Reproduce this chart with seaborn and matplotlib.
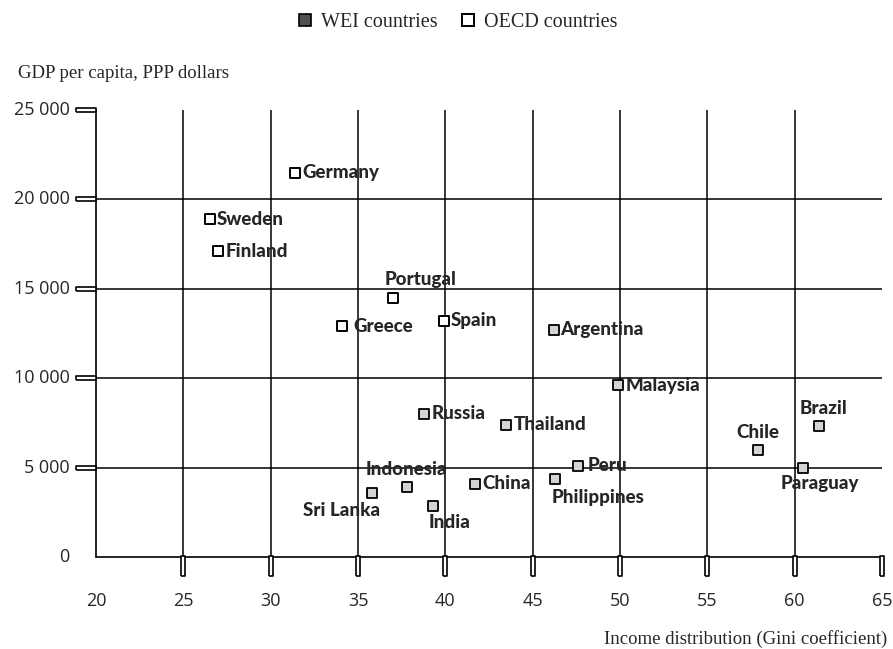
import matplotlib
matplotlib.use("Agg")
import matplotlib.pyplot as plt
from matplotlib.lines import Line2D
import numpy as np
import pandas as pd
import seaborn as sns

# Data
countries = ["Germany", "Sweden", "Finland", "Portugal", "Greece", "Spain",
             "Argentina", "Malaysia", "Russia", "Thailand", "Indonesia", "Sri Lanka",
             "India", "China", "Peru", "Philippines", "Chile", "Brazil", "Paraguay"]
gini = [31.4, 26.5, 27.0, 37.0, 34.1, 39.9,
        46.2, 49.9, 38.8, 43.5, 37.8, 35.8,
        39.3, 41.7, 47.6, 46.3, 57.9, 61.4, 60.5]
gdp = [21500, 18900, 17100, 14500, 12900, 13200,
       12700, 9600, 8000, 7400, 3900, 3600,
       2850, 4100, 5100, 4350, 6000, 7300, 5000]
group = ["OECD", "OECD", "OECD", "OECD", "OECD", "OECD",
         "WEI", "WEI", "WEI", "WEI", "WEI", "WEI",
         "WEI", "WEI", "WEI", "WEI", "WEI", "WEI", "WEI"]

x_ticks = [20, 25, 30, 35, 40, 45, 50, 55, 60, 65]
y_ticks = [0, 5000, 10000, 15000, 20000, 25000]
y_tick_labels = ["0", "5 000", "10 000", "15 000", "20 000", "25 000"]

df = pd.DataFrame({"country": countries, "gini": gini, "gdp": gdp, "group": group})

# label placement (offset in points, ha, va)
label_pos = {
    "Portugal": ((-6, 7), "left", "bottom"),
    "Indonesia": ((0, 7), "center", "bottom"),
    "Sri Lanka": ((6, -7), "right", "top"),
    "India": ((-3, -6), "left", "top"),
    "Philippines": ((-3, -7), "left", "top"),
    "Chile": ((0, 6), "center", "bottom"),
    "Brazil": ((3, 7), "center", "bottom"),
    "Paraguay": ((12, -5), "center", "top"),
    "Greece": ((8, 0), "left", "center"),
    "Peru": ((7, 0), "left", "center"),
}

sns.set_theme(style="white")
plt.rcParams["font.family"] = ["Liberation Serif", "DejaVu Serif"]
tick_font = ["Open Sans", "DejaVu Sans"]
label_font = ["Lato", "DejaVu Sans"]

fig = plt.figure(figsize=(8.93, 6.49), dpi=100)
ax = fig.add_axes([0.1075, 0.1418, 0.8802, 0.6887])
ax.set_xlim(20, 65)
ax.set_ylim(0, 25000)
for s in ax.spines.values():
    s.set_visible(False)
ax.set_xticks([])
ax.set_yticks([])

# grid lines drawn as in the original
for xv in x_ticks[1:-1]:
    ax.plot([xv, xv], [0, 25000], color="black", lw=1.1, zorder=1)
for yv in y_ticks[1:-1]:
    ax.plot([20, 65], [yv, yv], color="black", lw=1.1, zorder=1)
ax.plot([20, 20], [0, 25000], color="black", lw=1.2, clip_on=False, zorder=1)
ax.plot([20, 65], [0, 0], color="black", lw=1.2, clip_on=False, zorder=1)

# rectangular tick marks
tick_kw = dict(color="white", mec="black", mew=1.2, ls="none", clip_on=False, zorder=3)
ax.plot([19.45] * (len(y_ticks) - 1), y_ticks[1:],
        marker=[(-5, -1), (5, -1), (5, 1), (-5, 1), (-5, -1)], ms=15, **tick_kw)
ax.plot(x_ticks[1:], [-510] * (len(x_ticks) - 1),
        marker=[(-1, -5), (1, -5), (1, 5), (-1, 5), (-1, -5)], ms=15, **tick_kw)

for yv, lab in zip(y_ticks, y_tick_labels):
    ax.annotate(lab, (20, yv), xytext=(-19, 0), textcoords="offset points",
                ha="right", va="center", fontsize=13, family=tick_font,
                annotation_clip=False)
for xv in x_ticks:
    ax.annotate(str(xv), (xv, 0), xytext=(0, -32), textcoords="offset points",
                ha="center", va="center", fontsize=13, family=tick_font,
                annotation_clip=False)

# points
sns.scatterplot(data=df[df.group == "WEI"], x="gini", y="gdp", marker="s", s=50,
                color="#d4d4d4", edgecolor="black", linewidth=1.3, ax=ax, zorder=4,
                legend=False)
sns.scatterplot(data=df[df.group == "OECD"], x="gini", y="gdp", marker="s", s=62,
                color="white", edgecolor="black", linewidth=1.4, ax=ax, zorder=4,
                legend=False)
ax.set_xlabel("")
ax.set_ylabel("")

for c, xv, yv in zip(countries, gini, gdp):
    off, ha, va = label_pos.get(c, ((5, 0), "left", "center"))
    ax.annotate(c, (xv, yv), xytext=off, textcoords="offset points", ha=ha, va=va,
                fontsize=13.5, fontweight="black", family=label_font, zorder=5)

fig.text(0.02, 0.8875, "GDP per capita, PPP dollars", fontsize=13.5, ha="left",
         va="center")
fig.text(0.994, 0.015, "Income distribution (Gini coefficient)", fontsize=13.5,
         ha="right", va="center")

handles = [
    Line2D([], [], marker="s", ls="none", ms=9, mfc="#505050", mec="black", mew=1.2,
           label="WEI countries"),
    Line2D([], [], marker="s", ls="none", ms=9, mfc="white", mec="black", mew=1.4,
           label="OECD countries"),
]
fig.legend(handles=handles, loc="center", bbox_to_anchor=(0.511, 0.966), ncol=2,
           frameon=False, fontsize=14.5, handletextpad=0.3, columnspacing=1.0,
           handlelength=1.0)

fig.savefig("out.png", dpi=100)
